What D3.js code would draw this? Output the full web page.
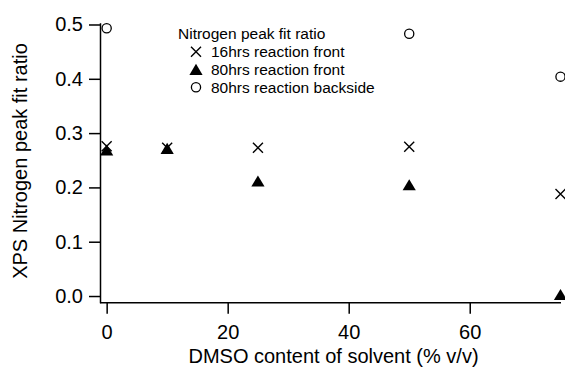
<!DOCTYPE html>
<html><head><meta charset="utf-8">
<script src="https://cdn.jsdelivr.net/npm/d3@7"></script>
<style>body{margin:0;background:#fff;} text{font-family:"Liberation Sans",Arial,sans-serif;}</style>
</head><body>
<svg id="c" width="565" height="370"></svg>
<script>
const dmso = [0, 10, 25, 50, 75];
const front16 = [0.276, 0.273, 0.273, 0.275, 0.188];
const front80 = [0.268, 0.271, 0.211, 0.204, 0.002];
const backX = [0, 50, 75];
const back80 = [0.493, 0.483, 0.404];
const yTicks = [0.0, 0.1, 0.2, 0.3, 0.4, 0.5];
const xTicks = [0, 20, 40, 60];
const legendTitle = "Nitrogen peak fit ratio";
const legendLabels = ["16hrs reaction front", "80hrs reaction front", "80hrs reaction backside"];

const svg = d3.select("#c");
const x = d3.scaleLinear().domain([-1.1, 75]).range([100, 560.5]);
const y = d3.scaleLinear().domain([-0.0123, 0.5033]).range([302.7, 22.7]);

const fs = 20;
const yAxis = svg.append("g").attr("transform", "translate(100,0)")
  .call(d3.axisLeft(y).tickValues(yTicks).tickFormat(d3.format(".1f")).tickSize(11).tickSizeOuter(0).tickPadding(6));
const xAxis = svg.append("g").attr("transform", "translate(0,302.7)")
  .call(d3.axisBottom(x).tickValues(xTicks).tickFormat(d3.format("d")).tickSize(11).tickSizeOuter(0).tickPadding(11.5));
xAxis.select(".domain").attr("d", "M100,0H561");
[yAxis, xAxis].forEach(a => {
  a.selectAll("path,line").attr("stroke", "#000").attr("stroke-width", 1.5);
  a.selectAll("text").attr("fill", "#000").style("font-size", fs + "px").style("font-family", "'Liberation Sans',Arial,sans-serif");
});

svg.append("text").attr("x", 333.5).attr("y", 362.5).attr("text-anchor", "middle")
  .style("font-size", fs + "px").text("DMSO content of solvent (% v/v)");
svg.append("text").attr("transform", "translate(27,161) rotate(-90)").attr("text-anchor", "middle")
  .style("font-size", fs + "px").text("XPS Nitrogen peak fit ratio");

const cross = (g, cx, cy, s) => {
  g.append("path").attr("d", `M${cx-s},${cy-s}L${cx+s},${cy+s}M${cx-s},${cy+s}L${cx+s},${cy-s}`)
    .attr("stroke", "#000").attr("stroke-width", 1.4).attr("fill", "none");
};
const tri = (g, cx, cy, s) => {
  g.append("path").attr("d", `M${cx},${cy-s}L${cx+s*1.1},${cy+s*0.85}L${cx-s*1.1},${cy+s*0.85}Z`).attr("fill", "#000");
};
const circ = (g, cx, cy, r) => {
  g.append("circle").attr("cx", cx).attr("cy", cy).attr("r", r).attr("fill", "none").attr("stroke", "#000").attr("stroke-width", 1.3);
};

const pts = svg.append("g");
backX.forEach((d, i) => circ(pts, x(d), y(back80[i]), 4.6));
dmso.forEach((d, i) => tri(pts, x(d), y(front80[i]), 6));
dmso.forEach((d, i) => cross(pts, x(d), y(front16[i]), 5));

const lg = svg.append("g");
const lfs = 15.5;
lg.append("text").attr("x", 178).attr("y", 38.5).style("font-size", lfs + "px").text(legendTitle);
const rows = [51.7, 69.3, 87.3];
legendLabels.forEach((t, i) => {
  lg.append("text").attr("x", 211).attr("y", rows[i] + 5.3).style("font-size", lfs + "px").text(t);
});
cross(lg, 196, rows[0], 5);
tri(lg, 196, rows[1] + 0.5, 6);
circ(lg, 196, rows[2], 4.6);
</script>
</body></html>
